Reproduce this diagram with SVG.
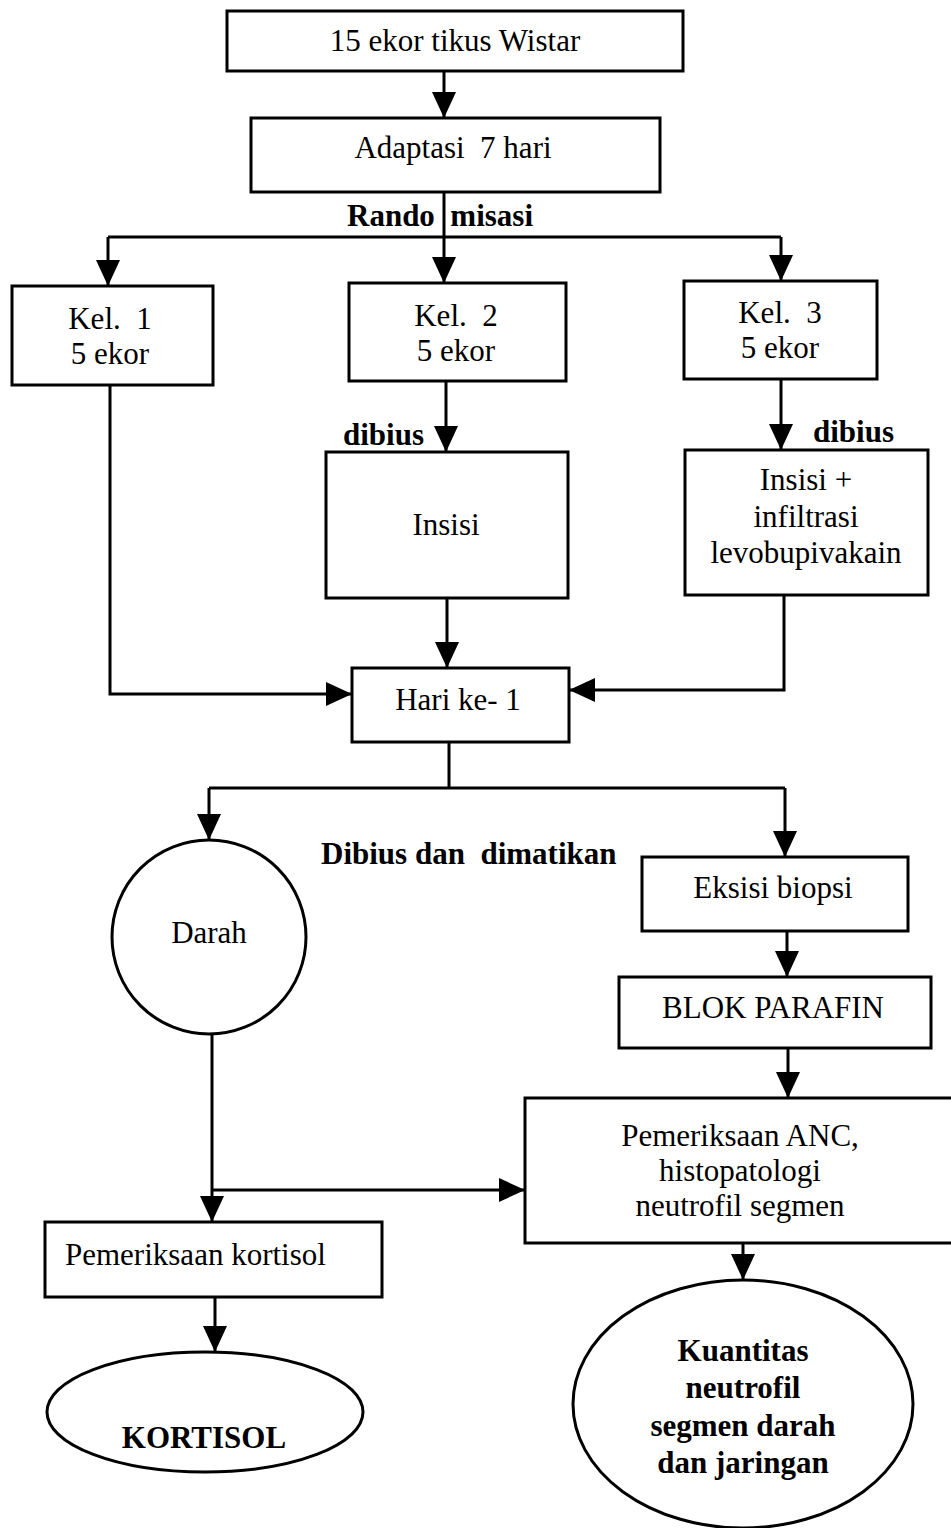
<svg xmlns="http://www.w3.org/2000/svg" width="951" height="1528" viewBox="0 0 951 1528">
<defs>
<style>
.box{fill:#fff;stroke:#000;stroke-width:3}
.t{font-family:"Liberation Serif","Times New Roman",serif;font-size:31px;fill:#000;text-anchor:middle}
.ts{font-family:"Liberation Serif","Times New Roman",serif;font-size:31px;fill:#000;text-anchor:start}
.b{font-family:"Liberation Serif","Times New Roman",serif;font-size:31px;font-weight:bold;fill:#000}
.bm{font-family:"Liberation Serif","Times New Roman",serif;font-size:31px;font-weight:bold;fill:#000;text-anchor:middle}
.be{font-family:"Liberation Serif","Times New Roman",serif;font-size:31px;font-weight:bold;fill:#000;text-anchor:end}
.c{fill:none;stroke:#000;stroke-width:3}
</style>
<marker id="ah" markerUnits="userSpaceOnUse" markerWidth="26" markerHeight="24" refX="26" refY="12" orient="auto">
<path d="M0,0 L26,12 L0,24 z" fill="#000"/>
</marker>
</defs>
<rect width="951" height="1528" fill="#fff"/>
<g id="connectors">
<path class="c" d="M444,71 V118" marker-end="url(#ah)"/>
<path class="c" d="M444,192 V283" marker-end="url(#ah)"/>
<path class="c" d="M108,237 H781"/>
<path class="c" d="M108,237 V286" marker-end="url(#ah)"/>
<path class="c" d="M781,237 V281" marker-end="url(#ah)"/>
<path class="c" d="M110,385 V694 H352" marker-end="url(#ah)"/>
<path class="c" d="M446,381 V452" marker-end="url(#ah)"/>
<path class="c" d="M447,598 V668" marker-end="url(#ah)"/>
<path class="c" d="M781,379 V450" marker-end="url(#ah)"/>
<path class="c" d="M784,595 V690 H569" marker-end="url(#ah)"/>
<path class="c" d="M449,742 V788"/>
<path class="c" d="M209,788 H785"/>
<path class="c" d="M209,788 V840" marker-end="url(#ah)"/>
<path class="c" d="M785,788 V857" marker-end="url(#ah)"/>
<path class="c" d="M787,931 V977" marker-end="url(#ah)"/>
<path class="c" d="M788,1048 V1098" marker-end="url(#ah)"/>
<path class="c" d="M212,1034 V1222" marker-end="url(#ah)"/>
<path class="c" d="M212,1190 H525" marker-end="url(#ah)"/>
<path class="c" d="M215,1297 V1352" marker-end="url(#ah)"/>
<path class="c" d="M743,1243 V1280" marker-end="url(#ah)"/>
</g>
<g id="labels">
<text class="b" x="347" y="226" xml:space="preserve">Rando  misasi</text>
<text class="be" x="424" y="445">dibius</text>
<text class="b" x="813" y="442">dibius</text>
<text class="b" x="321" y="864" xml:space="preserve">Dibius dan  dimatikan</text>
</g>
<g id="n1"><rect class="box" x="227" y="11" width="456" height="60"/><text class="t" x="455" y="51">15 ekor tikus Wistar</text></g>
<g id="n2"><rect class="box" x="251" y="118" width="409" height="74"/><text class="t" x="453" y="158" xml:space="preserve">Adaptasi  7 hari</text></g>
<g id="kel1"><rect class="box" x="12" y="286" width="201" height="99"/><text class="t" x="110" y="329" xml:space="preserve">Kel.  1</text><text class="t" x="110" y="364">5 ekor</text></g>
<g id="kel2"><rect class="box" x="349" y="283" width="217" height="98"/><text class="t" x="456" y="326" xml:space="preserve">Kel.  2</text><text class="t" x="456" y="361">5 ekor</text></g>
<g id="kel3"><rect class="box" x="684" y="281" width="193" height="98"/><text class="t" x="780" y="323" xml:space="preserve">Kel.  3</text><text class="t" x="780" y="358">5 ekor</text></g>
<g id="insisi"><rect class="box" x="326" y="452" width="242" height="146"/><text class="t" x="446" y="535">Insisi</text></g>
<g id="insisi2"><rect class="box" x="685" y="450" width="243" height="145"/><text class="t" x="806" y="490">Insisi +</text><text class="t" x="806" y="527">infiltrasi</text><text class="t" x="806" y="563">levobupivakain</text></g>
<g id="hari"><rect class="box" x="352" y="668" width="217" height="74"/><text class="t" x="458" y="710">Hari ke- 1</text></g>
<g id="darah"><ellipse class="box" cx="209" cy="937" rx="97" ry="97"/><text class="t" x="209" y="943">Darah</text></g>
<g id="eksisi"><rect class="box" x="642" y="857" width="266" height="74"/><text class="t" x="773" y="898">Eksisi biopsi</text></g>
<g id="blok"><rect class="box" x="619" y="977" width="312" height="71"/><text class="t" x="773" y="1018">BLOK PARAFIN</text></g>
<g id="anc"><rect class="box" x="525" y="1098" width="440" height="145"/><text class="t" x="740" y="1146">Pemeriksaan ANC,</text><text class="t" x="740" y="1181">histopatologi</text><text class="t" x="740" y="1216">neutrofil segmen</text></g>
<g id="kortisolbox"><rect class="box" x="45" y="1222" width="337" height="75"/><text class="ts" x="65" y="1265">Pemeriksaan kortisol</text></g>
<g id="kortisol"><ellipse class="box" cx="205" cy="1412" rx="158" ry="60"/><text class="bm" x="204" y="1448">KORTISOL</text></g>
<g id="kuantitas"><ellipse class="box" cx="743" cy="1404" rx="170" ry="124"/><text class="bm" x="743" y="1361">Kuantitas</text><text class="bm" x="743" y="1398">neutrofil</text><text class="bm" x="743" y="1436">segmen darah</text><text class="bm" x="743" y="1473">dan jaringan</text></g>
</svg>
